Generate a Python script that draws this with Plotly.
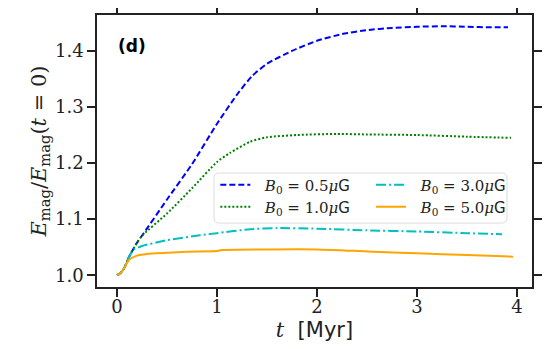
import plotly.graph_objects as go

# B0 = 0.5 muG
t_05 = [0, 0.03, 0.07, 0.1, 0.13, 0.2, 0.26, 0.5, 0.75, 1.0, 1.2, 1.35, 1.5, 1.75, 2.0, 2.25, 2.5, 2.75, 3.0, 3.25, 3.5, 3.75, 3.91]
e_05 = [1.0, 1.003, 1.012, 1.024, 1.036, 1.058, 1.073, 1.135, 1.198, 1.27, 1.322, 1.355, 1.377, 1.400, 1.418, 1.430, 1.437, 1.441, 1.443, 1.444, 1.443, 1.442, 1.442]

# B0 = 1.0 muG
t_10 = [0, 0.03, 0.07, 0.1, 0.13, 0.2, 0.26, 0.5, 0.75, 1.0, 1.13, 1.33, 1.5, 1.8, 2.2, 2.5, 3.0, 3.5, 3.94]
e_10 = [1.0, 1.003, 1.012, 1.024, 1.036, 1.058, 1.072, 1.110, 1.155, 1.202, 1.218, 1.238, 1.246, 1.250, 1.252, 1.251, 1.250, 1.247, 1.245]

# B0 = 3.0 muG
t_30 = [0, 0.03, 0.07, 0.1, 0.13, 0.17, 0.25, 0.5, 0.83, 1.0, 1.33, 1.6, 2.0, 2.5, 3.0, 3.5, 3.85]
e_30 = [1.0, 1.003, 1.012, 1.024, 1.036, 1.046, 1.052, 1.0625, 1.0714, 1.075, 1.082, 1.084, 1.083, 1.080, 1.078, 1.075, 1.073]

# B0 = 5.0 muG
t_50 = [0, 0.03, 0.07, 0.1, 0.13, 0.2, 0.3, 0.5, 0.7, 1.0, 1.05, 1.5, 2.0, 2.5, 3.0, 3.5, 3.96]
e_50 = [1.0, 1.003, 1.012, 1.022, 1.029, 1.035, 1.038, 1.040, 1.042, 1.043, 1.045, 1.046, 1.046, 1.0425, 1.039, 1.036, 1.033]

x_ticks = [0, 1, 2, 3, 4]
y_ticks = [1.0, 1.1, 1.2, 1.3, 1.4]

SANS = "DejaVu Sans"
SERIF = "DejaVu Serif"


def label(b):
    return f"\u00a0\u00a0<i>B</i><sub>0</sub> = {b}<i>μ</i><span style='font-family:{SANS}'>G</span>"


# label, colour, dash, legend id, legend x (paper), legend y (paper, row centre)
series = [
    (t_05, e_05, "0.5", "#0000FF", "6px,3px", "legend", 0.272, 0.375),
    (t_10, e_10, "1.0", "#008000", "2px,2px", "legend2", 0.272, 0.294),
    (t_30, e_30, "3.0", "#00BFBF", "10px,3px,2px,3px", "legend3", 0.63, 0.375),
    (t_50, e_50, "5.0", "#FFA500", "solid", "legend4", 0.63, 0.294),
]

fig = go.Figure()
for t, e, b, color, dash, leg, _, _ in series:
    fig.add_trace(
        go.Scatter(
            x=t,
            y=e,
            mode="lines",
            name=label(b),
            line=dict(color=color, width=2, dash=dash, shape="spline", smoothing=0.6),
            legend=leg,
        )
    )

# page body has an 8px margin, so the figure is 8px smaller and margins shifted
W, H = 548, 341
ML, MR, MT, MB = 89, 24, 7, 62
pw, ph = W - ML - MR, H - MT - MB

# rounded legend frame (paper coords)
x0, x1, y0, y1, r = 0.269, 0.9425, 0.235, 0.419, 0.012
ry = r * pw / ph
fig.add_shape(
    type="path",
    xref="paper",
    yref="paper",
    path=(
        f"M {x0+r},{y0} L {x1-r},{y0} Q {x1},{y0} {x1},{y0+ry} L {x1},{y1-ry} "
        f"Q {x1},{y1} {x1-r},{y1} L {x0+r},{y1} Q {x0},{y1} {x0},{y1-ry} "
        f"L {x0},{y0+ry} Q {x0},{y0} {x0+r},{y0} Z"
    ),
    line=dict(color="#DDDDDD", width=1),
    fillcolor="rgba(255,255,255,0.8)",
    layer="below",
)

fig.add_annotation(
    text="<b>(d)</b>",
    xref="paper",
    yref="paper",
    x=0.08,
    y=0.886,
    xanchor="center",
    yanchor="middle",
    showarrow=False,
    font=dict(family=SANS, size=17, color="black"),
)

axis_common = dict(
    showgrid=False,
    zeroline=False,
    showline=True,
    linecolor="#222222",
    linewidth=1.5,
    mirror="allticks",
    ticks="outside",
    ticklen=8,
    tickwidth=1.5,
    tickcolor="#222222",
    automargin=False,
    tickfont=dict(family=SERIF, size=18, color="#222222"),
)

legend_common = dict(
    bgcolor="rgba(0,0,0,0)",
    borderwidth=0,
    font=dict(family=SERIF, size=15, color="#222222"),
    xanchor="left",
    yanchor="middle",
    itemwidth=30,
)

legends = {leg: dict(legend_common, x=lx, y=ly) for _, _, _, _, _, leg, lx, ly in series}

fig.update_layout(
    width=W,
    height=H,
    margin=dict(l=ML, r=MR, t=MT, b=MB),
    plot_bgcolor="white",
    paper_bgcolor="white",
    xaxis=dict(
        axis_common,
        range=[-0.2, 4.15],
        tickvals=x_ticks,
        ticktext=[str(v) for v in x_ticks],
        ticklabelstandoff=-5,
        title=dict(
            text=f"<i>t</i>  <span style='font-family:{SANS}'>[Myr]</span>",
            font=dict(family=SERIF, size=21, color="#222222"),
            standoff=6,
        ),
    ),
    yaxis=dict(
        axis_common,
        range=[0.979, 1.464],
        tickvals=y_ticks,
        tickformat=".1f",
        title=dict(
            text="<i>E</i><sub>mag</sub>/<i>E</i><sub>mag</sub>(<i>t</i> = 0)",
            font=dict(family=SERIF, size=21, color="#222222"),
            standoff=3,
        ),
    ),
    showlegend=True,
    **legends,
)

fig.write_html("out.html")
